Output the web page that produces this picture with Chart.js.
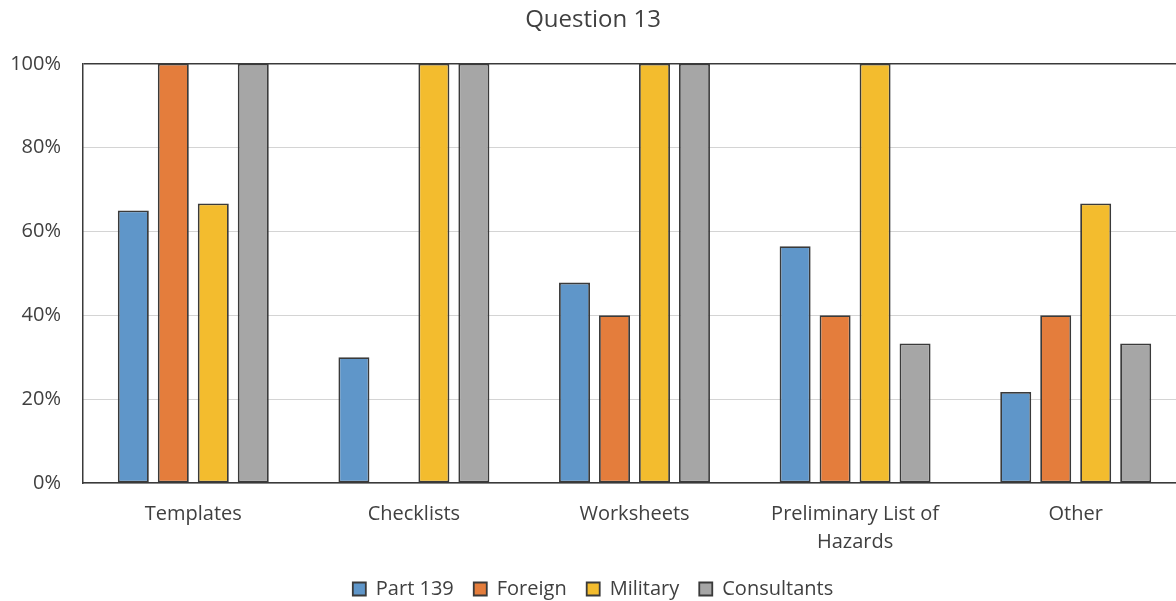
<!DOCTYPE html>
<html>
<head>
<meta charset="utf-8">
<script src="https://cdn.jsdelivr.net/npm/chart.js@4/dist/chart.umd.min.js"></script>
<style>
  html, body { margin: 0; padding: 0; background: #ffffff; overflow: hidden; }
  #wrap { position: absolute; left: 0; top: 0; width: 1200px; height: 601px; }
</style>
</head>
<body>
<div id="wrap"><canvas id="chart" width="1200" height="601"></canvas></div>
<script>
// Share of respondents (%) per tool type, by respondent group
const categories = ["Templates", "Checklists", "Worksheets", ["Preliminary List of", "Hazards"], "Other"];
const part139 = [65, 30, 47.8, 56.5, 21.7];
const foreign = [100, 0, 40, 40, 40];
const military = [66.7, 100, 100, 100, 66.7];
const consultants = [100, 100, 100, 33.3, 33.3];
const seriesNames = ["Part 139", "Foreign", "Military", "Consultants"];
const yTicks = [0, 20, 40, 60, 80, 100];

const FONT = "'Open Sans', 'Liberation Sans', sans-serif";
const TEXT = "#404040";
const EDGE = "#3a3a3a";
const fills = ["#5f96c9", "#e47d3c", "#f3bc2e", "#a6a6a6"];

const values = [part139, foreign, military, consultants];
const datasets = seriesNames.map((name, i) => ({
  label: name,
  data: values[i],
  backgroundColor: fills[i],
  borderColor: EDGE,
  borderWidth: 1.8,
  borderSkipped: false,
  categoryPercentage: 0.725,
  barPercentage: 0.775
}));

new Chart(document.getElementById("chart"), {
  type: "bar",
  data: { labels: categories, datasets },
  options: {
    responsive: false,
    animation: false,
    layout: { padding: { left: 0, right: 14, top: 0, bottom: -8 } },
    plugins: {
      title: {
        display: true,
        text: "Question 13",
        color: TEXT,
        font: { family: FONT, size: 24, weight: "normal", lineHeight: 1.2 },
        padding: { top: 6, bottom: 29 }
      },
      legend: {
        position: "bottom",
        labels: {
          color: TEXT,
          font: { family: FONT, size: 20 },
          boxWidth: 13,
          boxHeight: 13,
          padding: 20,
          useBorderRadius: false
        }
      },
      tooltip: { enabled: false }
    },
    scales: {
      x: {
        grid: { display: false, drawTicks: false },
        border: { display: true, color: EDGE, width: 1.5 },
        ticks: {
          color: TEXT,
          font: { family: FONT, size: 20, lineHeight: 1.4 },
          padding: 17,
          maxRotation: 0,
          autoSkip: false
        },
        afterFit: s => { s.height = 76; }
      },
      y: {
        min: 0,
        max: 100,
        afterBuildTicks: s => { s.ticks = yTicks.map(v => ({ value: v })); },
        grid: {
          drawTicks: false,
          color: c => c.tick && c.tick.value === 100 ? EDGE : "#a8a8a8",
          lineWidth: c => c.tick && c.tick.value === 100 ? 1.5 : 1
        },
        border: {
          display: true,
          color: EDGE,
          width: 1.5,
          dash: c => c.tick && c.tick.value === 100 ? [] : [1, 1]
        },
        ticks: {
          color: TEXT,
          font: { family: FONT, size: 20 },
          padding: 22,
          callback: v => v + "%"
        },
        afterFit: s => { s.width = 83; }
      }
    }
  }
});
</script>
</body>
</html>
